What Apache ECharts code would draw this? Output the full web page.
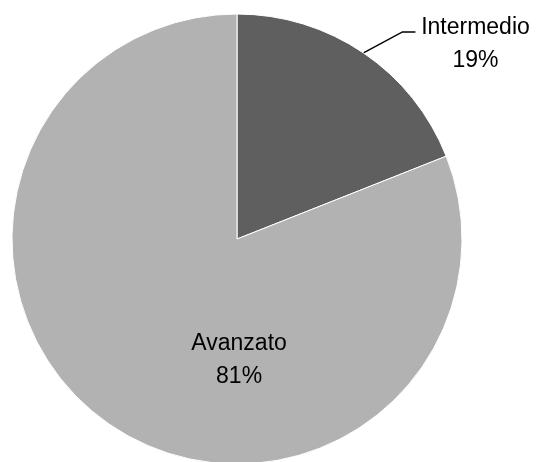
<!DOCTYPE html>
<html>
<head>
<meta charset="utf-8">
<script src="https://cdn.jsdelivr.net/npm/echarts@6/dist/echarts.min.js"></script>
<style>
html, body { margin: 0; padding: 0; background: #fff; }
#chart { width: 544px; height: 462px; }
</style>
</head>
<body>
<div id="chart"></div>
<script>
// dati del grafico
var categories = ['Intermedio', 'Avanzato'];
var values = [19, 81];
var colors = ['#5f5f5f', '#b2b2b2'];

var chart = echarts.init(document.getElementById('chart'));

var labelFont = {
    color: '#000',
    fontFamily: 'Liberation Sans',
    fontSize: 23,
    lineHeight: 33
};

chart.setOption({
    animation: false,
    series: [
        {
            type: 'pie',
            center: [237, 239],
            radius: 225,
            startAngle: 90,
            clockwise: true,
            data: categories.map(function (name, i) {
                return {
                    name: name,
                    value: values[i],
                    itemStyle: { color: colors[i] },
                    label: { show: i === 0 },
                    labelLine: { show: i === 0 }
                };
            }),
            itemStyle: {
                borderColor: '#ffffff',
                borderWidth: 1
            },
            label: Object.assign({
                position: 'outside',
                formatter: '{b}\n{d}%'
            }, labelFont),
            labelLine: {
                length: 20,
                length2: 15,
                lineStyle: { color: '#000', width: 1.5 }
            },
            labelLayout: function (p) {
                if (p.dataIndex === 0) {
                    // linea guida come in Excel: diagonale + breve tratto orizzontale
                    var s = p.labelLinePoints ? p.labelLinePoints[0] : [364, 53];
                    var b = [s[0] + 39, s[1] - 21];
                    var e = [b[0] + 13, b[1]];
                    return {
                        x: e[0] + 60,
                        y: b[1] + 12,
                        align: 'center',
                        verticalAlign: 'middle',
                        labelLinePoints: [s, b, e]
                    };
                }
                return {};
            }
        },
        {
            // etichetta interna per Avanzato
            type: 'pie',
            center: [237, 239],
            radius: 225,
            startAngle: 90,
            clockwise: true,
            silent: true,
            data: categories.map(function (name, i) {
                return {
                    name: name,
                    value: values[i],
                    itemStyle: { color: 'transparent' },
                    label: { show: i === 1 }
                };
            }),
            label: Object.assign({
                position: 'inside',
                formatter: '{b}\n{d}%'
            }, labelFont),
            labelLine: { show: false },
            labelLayout: function (p) {
                return { dx: 67, dy: 26 };
            }
        }
    ]
});
</script>
</body>
</html>
